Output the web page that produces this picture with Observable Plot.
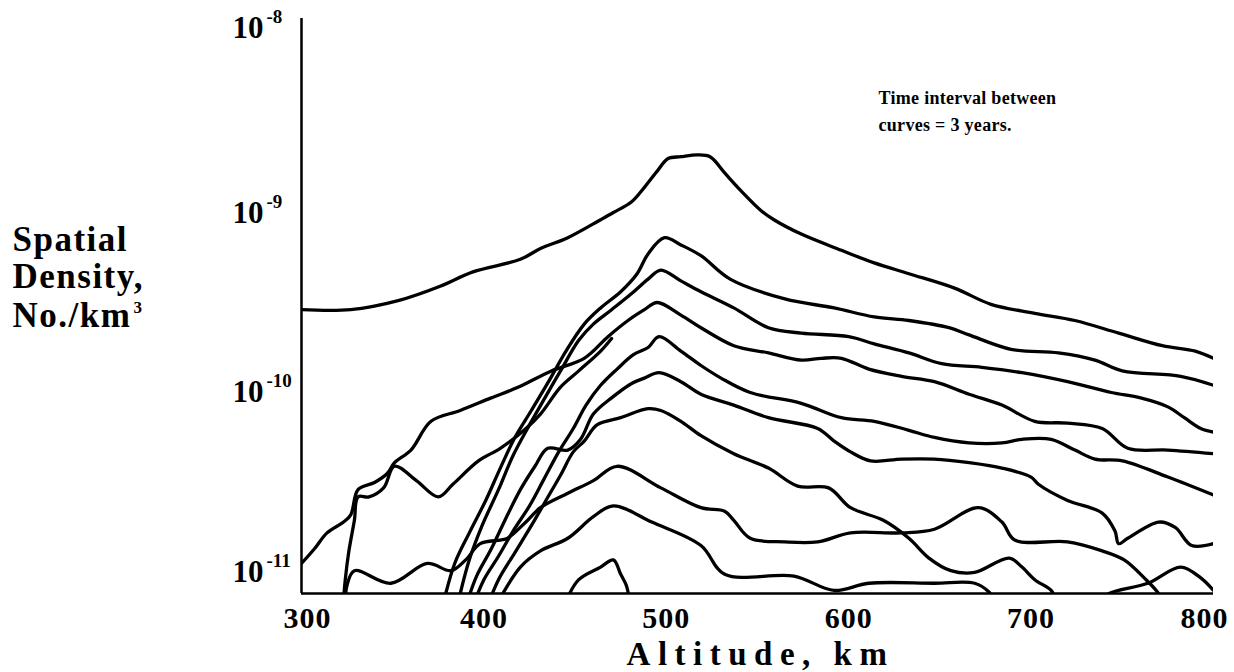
<!DOCTYPE html>
<html><head><meta charset="utf-8">
<script src="https://cdn.jsdelivr.net/npm/d3@7"></script>
<script src="https://cdn.jsdelivr.net/npm/@observablehq/plot@0.6"></script>
<style>
html,body{margin:0;padding:0;background:#fff;}
#chart svg{display:block;}
</style></head>
<body><div id="chart"></div>
<script>
// Axis settings
const xDomain = [300, 800];
const yDomain = [7.64e-12, 1.197e-8];
const xTicks = [300, 400, 500, 600, 700, 800];
const yTickExponents = [-8, -9, -10, -11];

// Curves: altitude (km) and log10 of spatial density (No./km^3), 3 years apart
const alt0 = [300,327,353,376,394,420,431,446,464,471,481,488,495,501,508,517,524,532,541,552,559,574,596,614,633,658,678,702,724,748,772,790,800];
const den0 = [-9.54,-9.54,-9.49,-9.41,-9.33,-9.26,-9.20,-9.14,-9.04,-9.00,-8.94,-8.86,-8.77,-8.70,-8.69,-8.68,-8.69,-8.78,-8.88,-8.99,-9.04,-9.12,-9.21,-9.28,-9.34,-9.42,-9.51,-9.56,-9.60,-9.67,-9.74,-9.77,-9.81];

const alt3 = [378,384,392,401,409,417,426,436,445,455,464,475,484,490,499,508,519,535,565,592,614,633,655,666,689,715,735,750,782,800];
const den3 = [-11.16,-10.95,-10.78,-10.60,-10.42,-10.25,-10.10,-9.93,-9.77,-9.62,-9.53,-9.44,-9.34,-9.23,-9.14,-9.18,-9.24,-9.37,-9.48,-9.53,-9.58,-9.60,-9.64,-9.68,-9.76,-9.78,-9.82,-9.88,-9.91,-9.96];

const alt6 = [386,392,399,408,416,425,434,442,452,460,470,481,490,497,508,519,537,556,574,600,614,633,651,673,695,720,744,760,775,784,793,800];
const den6 = [-11.16,-10.93,-10.74,-10.54,-10.35,-10.18,-10.02,-9.88,-9.71,-9.62,-9.54,-9.45,-9.37,-9.32,-9.38,-9.44,-9.53,-9.64,-9.67,-9.69,-9.73,-9.78,-9.84,-9.86,-9.89,-9.94,-10.00,-10.03,-10.08,-10.14,-10.20,-10.22];

const alt9 = [300,307,314,323,327,331,340,347,351,360,371,387,404,419,437,455,468,479,488,495,508,519,537,556,574,585,596,611,629,647,666,684,702,720,739,753,775,800];
const den9 = [-10.95,-10.87,-10.78,-10.72,-10.68,-10.54,-10.50,-10.45,-10.39,-10.32,-10.16,-10.10,-10.03,-9.97,-9.88,-9.81,-9.69,-9.60,-9.54,-9.50,-9.57,-9.64,-9.74,-9.78,-9.82,-9.81,-9.81,-9.87,-9.91,-9.94,-10.01,-10.07,-10.16,-10.17,-10.20,-10.31,-10.32,-10.34];

const alt12 = [395,400,408,416,425,433,441,449,456,464,473,482,490,496,508,519,530,546,574,596,614,633,647,666,684,695,711,724,735,750,775,800];
const den12 = [-11.16,-11.04,-10.91,-10.77,-10.63,-10.48,-10.33,-10.20,-10.07,-9.96,-9.87,-9.79,-9.75,-9.69,-9.77,-9.85,-9.92,-10.00,-10.06,-10.14,-10.16,-10.21,-10.25,-10.28,-10.28,-10.26,-10.26,-10.32,-10.37,-10.38,-10.47,-10.57];

const altBranch = [323,324,326,329,331,337,345,351,363,375,383,397,409,422,431,442,452,464,470];
const denBranch = [-11.16,-11.04,-10.88,-10.71,-10.58,-10.58,-10.53,-10.41,-10.49,-10.58,-10.51,-10.38,-10.31,-10.21,-10.12,-9.97,-9.88,-9.77,-9.70];

const alt15 = [391,396,404,412,420,428,435,446,453,460,470,481,488,496,508,519,537,556,583,592,601,612,629,647,666,684,700,704,720,739,746,748,753,770,779,788,800];
const den15 = [-11.16,-11.02,-10.87,-10.70,-10.54,-10.41,-10.31,-10.32,-10.26,-10.12,-10.03,-9.95,-9.92,-9.89,-9.94,-10.01,-10.07,-10.14,-10.20,-10.27,-10.33,-10.38,-10.37,-10.37,-10.39,-10.42,-10.47,-10.51,-10.60,-10.67,-10.77,-10.84,-10.81,-10.72,-10.75,-10.85,-10.84];

const alt18 = [403,408,417,426,434,442,449,455,462,475,490,497,508,519,537,556,572,589,601,619,633,644,656,669,688,695,702,711,714];
const den18 = [-11.16,-11.04,-10.89,-10.74,-10.60,-10.46,-10.33,-10.27,-10.18,-10.14,-10.09,-10.10,-10.16,-10.24,-10.34,-10.42,-10.52,-10.53,-10.64,-10.71,-10.81,-10.92,-10.99,-11.00,-10.92,-10.97,-11.04,-11.10,-11.16];

const alt21 = [324,325,329,349,369,382,390,398,409,413,424,431,446,460,473,497,519,532,537,546,565,583,601,629,647,671,684,691,720,739,751,762,770,771];
const den21 = [-11.16,-11.07,-10.99,-11.06,-10.95,-10.99,-10.93,-10.84,-10.82,-10.81,-10.71,-10.64,-10.56,-10.49,-10.41,-10.53,-10.64,-10.66,-10.71,-10.81,-10.83,-10.83,-10.78,-10.78,-10.76,-10.64,-10.72,-10.82,-10.83,-10.88,-10.93,-11.03,-11.12,-11.16];

const alt24 = [408,420,431,446,460,471,492,519,532,570,592,611,647,669,677,681,736,742,764,782,793,800];
const den24 = [-11.16,-10.97,-10.88,-10.81,-10.69,-10.63,-10.72,-10.85,-11.01,-11.02,-11.10,-11.06,-11.06,-11.06,-11.11,-11.18,-11.18,-11.12,-11.06,-10.97,-11.03,-11.10];

const alt27 = [445,452,464,471,475,478,480];
const den27 = [-11.16,-11.04,-10.97,-10.93,-11.01,-11.07,-11.16];

const yTitleLines = ["Spatial", "Density,", "No./km"];
const noteLines = ["Time interval between", "curves = 3 years."];

const series = [
  {name: "0 yr", alt: alt0, logDen: den0},
  {name: "3 yr", alt: alt3, logDen: den3},
  {name: "6 yr", alt: alt6, logDen: den6},
  {name: "9 yr", alt: alt9, logDen: den9},
  {name: "12 yr", alt: alt12, logDen: den12},
  {name: "12 yr (low branch)", alt: altBranch, logDen: denBranch},
  {name: "15 yr", alt: alt15, logDen: den15},
  {name: "18 yr", alt: alt18, logDen: den18},
  {name: "21 yr", alt: alt21, logDen: den21},
  {name: "24 yr", alt: alt24, logDen: den24},
  {name: "27 yr", alt: alt27, logDen: den27}
];
const rows = series.flatMap(s => s.alt.map((a, i) => ({curve: s.name, alt: a, dens: Math.pow(10, s.logDen[i])})));

const chart = Plot.plot({
  width: 1234,
  height: 672,
  marginLeft: 301,
  marginRight: 21,
  marginTop: 18,
  marginBottom: 79,
  style: {fontFamily: '"Liberation Serif", "Times New Roman", serif', fontWeight: "bold", background: "white", color: "black", overflow: "visible"},
  x: {domain: xDomain, axis: null},
  y: {type: "log", domain: yDomain, axis: null},
  marks: [
    Plot.line(rows, {x: "alt", y: "dens", z: "curve", stroke: "black", strokeWidth: 3.3, strokeLinejoin: "round", strokeLinecap: "round", curve: "catmull-rom", clip: true}),
    Plot.ruleX([xDomain[0]], {stroke: "black", strokeWidth: 2.5}),
    Plot.ruleY([yDomain[0]], {stroke: "black", strokeWidth: 2.5}),
    // x tick labels (end labels nudged inward as in the original)
    Plot.text(xTicks.slice(0, 1), {x: d => d, text: d => String(d), frameAnchor: "bottom", dx: 6, dy: 34, lineAnchor: "bottom", fontSize: 30}),
    Plot.text(xTicks.slice(1, -1), {x: d => d, text: d => String(d), frameAnchor: "bottom", dy: 34, lineAnchor: "bottom", fontSize: 30}),
    Plot.text(xTicks.slice(-1), {x: d => d, text: d => String(d), frameAnchor: "bottom", dx: -9, dy: 34, lineAnchor: "bottom", fontSize: 30}),
    // y tick labels: "10" with a raised exponent
    Plot.text(yTickExponents.slice(0, 1), {y: d => Math.pow(10, d), text: () => "10", frameAnchor: "left", dx: -38, dy: 5, textAnchor: "end", lineAnchor: "bottom", fontSize: 31}),
    Plot.text(yTickExponents.slice(0, 1), {y: d => Math.pow(10, d), text: d => String(d), frameAnchor: "left", dx: -35, dy: -10, textAnchor: "start", lineAnchor: "bottom", fontSize: 19}),
    Plot.text(yTickExponents.slice(1), {y: d => Math.pow(10, d), text: () => "10", frameAnchor: "left", dx: -38, dy: 10, textAnchor: "end", lineAnchor: "bottom", fontSize: 31}),
    Plot.text(yTickExponents.slice(1), {y: d => Math.pow(10, d), text: d => String(d), frameAnchor: "left", dx: -35, dy: -5, textAnchor: "start", lineAnchor: "bottom", fontSize: 19}),
    Plot.text(["Altitude, km"], {frameAnchor: "bottom", dx: 3, dy: 71, lineAnchor: "bottom", fontSize: 33}),
    Plot.text([yTitleLines[0]], {frameAnchor: "top-left", dx: -289, dy: 232, textAnchor: "start", lineAnchor: "bottom", fontSize: 35}),
    Plot.text([yTitleLines[1]], {frameAnchor: "top-left", dx: -289, dy: 269, textAnchor: "start", lineAnchor: "bottom", fontSize: 35}),
    Plot.text([yTitleLines[2]], {frameAnchor: "top-left", dx: -289, dy: 308, textAnchor: "start", lineAnchor: "bottom", fontSize: 35}),
    Plot.text(["3"], {frameAnchor: "top-left", dx: -168, dy: 294, textAnchor: "start", lineAnchor: "bottom", fontSize: 17}),
    Plot.text([noteLines[0]], {frameAnchor: "top-left", dx: 577, dy: 85, textAnchor: "start", lineAnchor: "bottom", fontSize: 18}),
    Plot.text([noteLines[1]], {frameAnchor: "top-left", dx: 577, dy: 112, textAnchor: "start", lineAnchor: "bottom", fontSize: 18})
  ]
});

// letter spacing of the original typesetting
const spacing = new Map([
  ["Altitude, km", 7.5],
  ["Spatial", 1.5], ["Density,", 1.5], ["No./km", 1.5],
  ["300", 1], ["400", 1], ["500", 1], ["600", 1], ["700", 1], ["800", 1],
  [noteLines[0], 0.3], [noteLines[1], 0.3]
]);
d3.select(chart).selectAll("text").each(function() {
  const s = spacing.get(this.textContent);
  if (s !== undefined) this.setAttribute("letter-spacing", s);
});
document.getElementById("chart").appendChild(chart);
</script></body></html>
